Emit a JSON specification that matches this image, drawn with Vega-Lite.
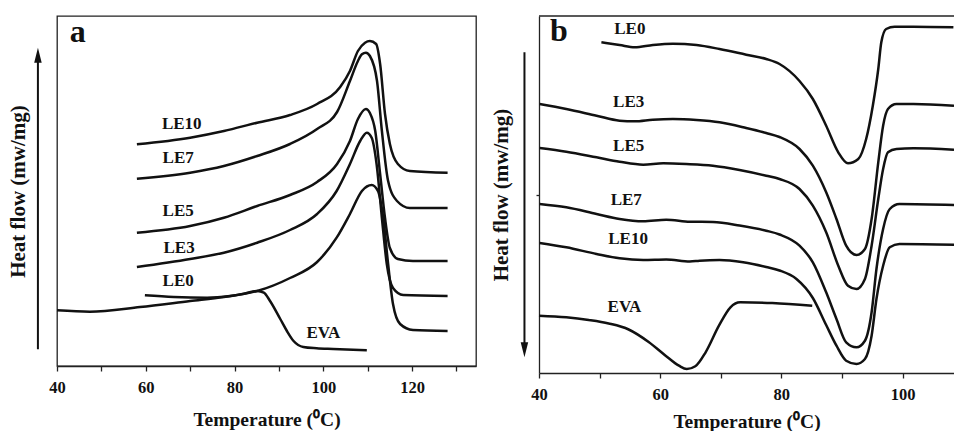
{
 "$schema": "https://vega.github.io/schema/vega-lite/v6.json",
 "padding": {"left": 6, "top": 14, "right": 0, "bottom": 0},
 "background": "white",
 "spacing": 13,
 "config": {
  "font": "Liberation Serif",
  "view": {"stroke": null},
  "axis": {"grid": false, "labelFont": "Liberation Serif", "labelFontWeight": "bold", "labelFontSize": 16.5, "labelColor": "#111", "titleFont": "Liberation Serif", "titleFontWeight": "bold", "titleFontSize": 19.5, "titleColor": "#111", "domainColor": "#222", "domainWidth": 1.3, "tickColor": "#222", "tickWidth": 1.3}
 },
 "datasets": {
  "a": [
   {"s":"LE10","T":58.0,"v":221.7},{"s":"LE10","T":70.0,"v":228.3},{"s":"LE10","T":77.6,"v":235},{"s":"LE10","T":85.1,"v":243.3},{"s":"LE10","T":92.5,"v":251},{"s":"LE10","T":98.6,"v":262},{"s":"LE10","T":103.8,"v":279},{"s":"LE10","T":106.0,"v":295},{"s":"LE10","T":107.8,"v":315},{"s":"LE10","T":109.4,"v":323.3},{"s":"LE10","T":110.5,"v":325},{"s":"LE10","T":111.9,"v":322},{"s":"LE10","T":112.8,"v":302},{"s":"LE10","T":113.9,"v":252},{"s":"LE10","T":115.0,"v":222},{"s":"LE10","T":116.8,"v":202},{"s":"LE10","T":119.5,"v":195},{"s":"LE10","T":128.0,"v":193.3},
   {"s":"LE7","T":58.0,"v":187.3},{"s":"LE7","T":70.0,"v":193.3},{"s":"LE7","T":77.6,"v":200},{"s":"LE7","T":85.1,"v":210},{"s":"LE7","T":92.5,"v":222},{"s":"LE7","T":98.6,"v":237},{"s":"LE7","T":103.1,"v":254},{"s":"LE7","T":106.0,"v":285},{"s":"LE7","T":107.8,"v":305},{"s":"LE7","T":108.7,"v":311.7},{"s":"LE7","T":109.6,"v":313.3},{"s":"LE7","T":110.5,"v":310},{"s":"LE7","T":112.1,"v":285},{"s":"LE7","T":113.2,"v":235},{"s":"LE7","T":114.6,"v":185},{"s":"LE7","T":116.6,"v":165},{"s":"LE7","T":119.5,"v":158},{"s":"LE7","T":128.0,"v":158},
   {"s":"LE5","T":58.0,"v":133.3},{"s":"LE5","T":70.0,"v":140},{"s":"LE5","T":77.6,"v":148.3},{"s":"LE5","T":85.1,"v":160},{"s":"LE5","T":92.5,"v":171},{"s":"LE5","T":98.6,"v":184},{"s":"LE5","T":103.1,"v":202},{"s":"LE5","T":106.0,"v":225},{"s":"LE5","T":107.8,"v":247},{"s":"LE5","T":109.6,"v":257},{"s":"LE5","T":110.5,"v":253},{"s":"LE5","T":111.7,"v":235},{"s":"LE5","T":112.8,"v":192},{"s":"LE5","T":113.9,"v":148},{"s":"LE5","T":115.0,"v":118},{"s":"LE5","T":116.8,"v":107},{"s":"LE5","T":120.2,"v":105},{"s":"LE5","T":128.0,"v":105},
   {"s":"LE3","T":58.0,"v":99},{"s":"LE3","T":70.0,"v":107},{"s":"LE3","T":77.6,"v":113.3},{"s":"LE3","T":85.1,"v":123.3},{"s":"LE3","T":92.5,"v":136},{"s":"LE3","T":98.6,"v":152},{"s":"LE3","T":103.0,"v":175},{"s":"LE3","T":106.0,"v":202},{"s":"LE3","T":108.3,"v":225},{"s":"LE3","T":109.8,"v":233.3},{"s":"LE3","T":110.9,"v":228.3},{"s":"LE3","T":112.0,"v":202},{"s":"LE3","T":113.2,"v":148},{"s":"LE3","T":114.3,"v":102},{"s":"LE3","T":115.7,"v":78},{"s":"LE3","T":118.0,"v":71},{"s":"LE3","T":128.0,"v":70},
   {"s":"LE0","T":59.8,"v":70.7},{"s":"LE0","T":66.3,"v":69},{"s":"LE0","T":73.8,"v":68.3},{"s":"LE0","T":79.0,"v":70},{"s":"LE0","T":85.1,"v":75},{"s":"LE0","T":92.5,"v":88},{"s":"LE0","T":98.6,"v":104},{"s":"LE0","T":103.0,"v":128.3},{"s":"LE0","T":106.0,"v":152},{"s":"LE0","T":108.7,"v":175},{"s":"LE0","T":110.9,"v":181},{"s":"LE0","T":112.3,"v":175},{"s":"LE0","T":113.5,"v":148},{"s":"LE0","T":114.6,"v":102},{"s":"LE0","T":115.7,"v":62},{"s":"LE0","T":117.3,"v":42},{"s":"LE0","T":120.2,"v":36},{"s":"LE0","T":128.0,"v":35},
   {"s":"EVA","T":40.0,"v":55.7},{"s":"EVA","T":47.4,"v":54.3},{"s":"EVA","T":58.7,"v":59},{"s":"EVA","T":70.0,"v":65},{"s":"EVA","T":77.6,"v":69},{"s":"EVA","T":82.1,"v":72.3},{"s":"EVA","T":85.1,"v":75},{"s":"EVA","T":86.6,"v":73.3},{"s":"EVA","T":88.0,"v":65},{"s":"EVA","T":90.3,"v":47},{"s":"EVA","T":91.8,"v":35},{"s":"EVA","T":93.3,"v":25},{"s":"EVA","T":95.5,"v":19},{"s":"EVA","T":98.5,"v":17.7},{"s":"EVA","T":102.2,"v":17},{"s":"EVA","T":109.8,"v":15.7}
  ],
  "b": [
   {"s":"LE0","T":50.3,"v":330.7},{"s":"LE0","T":53.3,"v":328},{"s":"LE0","T":55.8,"v":325.7},{"s":"LE0","T":58.8,"v":328},{"s":"LE0","T":62.1,"v":329.3},{"s":"LE0","T":66.0,"v":328},{"s":"LE0","T":69.8,"v":324},{"s":"LE0","T":74.2,"v":318.3},{"s":"LE0","T":77.5,"v":314},{"s":"LE0","T":79.7,"v":309},{"s":"LE0","T":83.0,"v":292},{"s":"LE0","T":85.2,"v":274},{"s":"LE0","T":87.4,"v":247.3},{"s":"LE0","T":89.4,"v":220.7},{"s":"LE0","T":91.0,"v":209.7},{"s":"LE0","T":92.7,"v":214},{"s":"LE0","T":94.0,"v":234},{"s":"LE0","T":95.1,"v":267.3},{"s":"LE0","T":96.0,"v":304},{"s":"LE0","T":96.5,"v":330.7},{"s":"LE0","T":97.3,"v":344},{"s":"LE0","T":98.7,"v":346.3},{"s":"LE0","T":101.8,"v":346.3},{"s":"LE0","T":108.4,"v":345.7},
   {"s":"LE3","T":40.1,"v":269},{"s":"LE3","T":44.5,"v":264},{"s":"LE3","T":49.5,"v":257.3},{"s":"LE3","T":53.3,"v":252.3},{"s":"LE3","T":55.8,"v":251.7},{"s":"LE3","T":58.8,"v":253.3},{"s":"LE3","T":62.1,"v":254},{"s":"LE3","T":66.0,"v":253},{"s":"LE3","T":69.8,"v":250.7},{"s":"LE3","T":74.2,"v":245},{"s":"LE3","T":77.5,"v":240},{"s":"LE3","T":79.7,"v":236},{"s":"LE3","T":83.0,"v":224},{"s":"LE3","T":85.2,"v":207.3},{"s":"LE3","T":87.4,"v":180.7},{"s":"LE3","T":89.1,"v":154},{"s":"LE3","T":90.7,"v":127.3},{"s":"LE3","T":92.4,"v":118},{"s":"LE3","T":93.8,"v":124},{"s":"LE3","T":94.9,"v":154},{"s":"LE3","T":96.0,"v":210.7},{"s":"LE3","T":96.8,"v":247.3},{"s":"LE3","T":97.6,"v":264},{"s":"LE3","T":99.0,"v":269},{"s":"LE3","T":101.8,"v":269},{"s":"LE3","T":108.5,"v":267.3},
   {"s":"LE5","T":40.1,"v":225},{"s":"LE5","T":44.5,"v":221.3},{"s":"LE5","T":49.5,"v":215.7},{"s":"LE5","T":53.3,"v":211.3},{"s":"LE5","T":57.2,"v":208.3},{"s":"LE5","T":60.5,"v":209.7},{"s":"LE5","T":64.3,"v":209},{"s":"LE5","T":68.7,"v":207.3},{"s":"LE5","T":73.1,"v":203},{"s":"LE5","T":77.5,"v":197.3},{"s":"LE5","T":79.7,"v":194},{"s":"LE5","T":83.0,"v":184},{"s":"LE5","T":85.2,"v":167.3},{"s":"LE5","T":87.4,"v":140.7},{"s":"LE5","T":89.4,"v":107.3},{"s":"LE5","T":91.0,"v":87.3},{"s":"LE5","T":92.4,"v":84},{"s":"LE5","T":93.8,"v":94},{"s":"LE5","T":94.9,"v":127.3},{"s":"LE5","T":96.0,"v":174},{"s":"LE5","T":96.8,"v":204},{"s":"LE5","T":97.6,"v":220.7},{"s":"LE5","T":99.0,"v":224},{"s":"LE5","T":101.8,"v":224.7},{"s":"LE5","T":108.5,"v":223.3},
   {"s":"LE7","T":40.1,"v":169},{"s":"LE7","T":44.5,"v":165.7},{"s":"LE7","T":49.5,"v":159},{"s":"LE7","T":53.3,"v":154},{"s":"LE7","T":57.2,"v":151.7},{"s":"LE7","T":61.0,"v":153.3},{"s":"LE7","T":64.9,"v":151.3},{"s":"LE7","T":68.7,"v":151},{"s":"LE7","T":73.1,"v":147.5},{"s":"LE7","T":77.5,"v":142.3},{"s":"LE7","T":79.7,"v":138.5},{"s":"LE7","T":83.0,"v":127.3},{"s":"LE7","T":85.2,"v":110.7},{"s":"LE7","T":87.4,"v":80.7},{"s":"LE7","T":89.1,"v":54},{"s":"LE7","T":90.7,"v":30.7},{"s":"LE7","T":92.4,"v":25.7},{"s":"LE7","T":93.8,"v":32.3},{"s":"LE7","T":94.9,"v":60.7},{"s":"LE7","T":95.7,"v":104},{"s":"LE7","T":96.8,"v":144},{"s":"LE7","T":97.9,"v":164},{"s":"LE7","T":99.5,"v":169},{"s":"LE7","T":108.5,"v":168},
   {"s":"LE10","T":40.1,"v":130},{"s":"LE10","T":44.5,"v":125.7},{"s":"LE10","T":49.5,"v":119},{"s":"LE10","T":53.3,"v":114.7},{"s":"LE10","T":57.2,"v":113},{"s":"LE10","T":61.0,"v":113.5},{"s":"LE10","T":64.9,"v":111.5},{"s":"LE10","T":66.5,"v":112.3},{"s":"LE10","T":69.8,"v":113},{"s":"LE10","T":73.7,"v":110.7},{"s":"LE10","T":77.5,"v":106},{"s":"LE10","T":79.7,"v":102.5},{"s":"LE10","T":82.5,"v":94},{"s":"LE10","T":85.2,"v":75},{"s":"LE10","T":87.4,"v":48},{"s":"LE10","T":89.1,"v":27.3},{"s":"LE10","T":90.7,"v":12.3},{"s":"LE10","T":92.4,"v":9},{"s":"LE10","T":93.8,"v":14},{"s":"LE10","T":94.9,"v":37.3},{"s":"LE10","T":95.7,"v":74},{"s":"LE10","T":96.8,"v":107.3},{"s":"LE10","T":97.9,"v":125.7},{"s":"LE10","T":99.5,"v":129},{"s":"LE10","T":108.5,"v":128.3},
   {"s":"EVA","T":40.0,"v":57.3},{"s":"EVA","T":44.5,"v":55.7},{"s":"EVA","T":48.2,"v":53},{"s":"EVA","T":51.5,"v":49.5},{"s":"EVA","T":54.8,"v":43.5},{"s":"EVA","T":58.1,"v":31},{"s":"EVA","T":60.9,"v":17.3},{"s":"EVA","T":63.1,"v":7.3},{"s":"EVA","T":64.4,"v":4},{"s":"EVA","T":65.8,"v":6.7},{"s":"EVA","T":67.5,"v":20.7},{"s":"EVA","T":69.7,"v":47.3},{"s":"EVA","T":71.6,"v":65.7},{"s":"EVA","T":73.2,"v":70.7},{"s":"EVA","T":78.5,"v":70},{"s":"EVA","T":85.1,"v":67.3}
  ],
  "labA": [
   {"label":"LE10","T":68.1,"v":241.7},{"label":"LE7","T":67.3,"v":208.3},{"label":"LE5","T":67.3,"v":155},{"label":"LE3","T":67.5,"v":118.3},{"label":"LE0","T":67.3,"v":85},{"label":"EVA","T":100.0,"v":32.7}
  ],
  "labB": [
   {"label":"LE0","T":55.0,"v":344},{"label":"LE3","T":54.8,"v":270.7},{"label":"LE5","T":54.8,"v":226.7},{"label":"LE7","T":54.4,"v":173.3},{"label":"LE10","T":54.7,"v":134},{"label":"EVA","T":54.1,"v":65.7}
  ]
 },
 "hconcat": [
  {
   "width": 419,
   "height": 350,
   "view": {"stroke": "#222", "strokeWidth": 1.3},
   "layer": [
    {
     "data": {"name": "a"},
     "mark": {"type": "line", "color": "#111", "strokeWidth": 2.5, "interpolate": "monotone"},
     "encoding": {
      "x": {"field": "T", "type": "quantitative", "scale": {"domain": [40, 134.4], "nice": false, "zero": false},
            "axis": {"values": [40,50,60,70,80,90,100,110,120,130], "labelExpr": "datum.value % 20 === 0 ? datum.label : ''", "tickSize": 5, "labelPadding": 8, "titlePadding": 15, "labelFlush": false, "title": "Temperature (⁰C)"}},
      "y": {"field": "v", "type": "quantitative", "scale": {"domain": [0, 350], "nice": false, "zero": false},
            "axis": {"title": "Heat flow (mw/mg)", "titleFontSize": 21, "ticks": false, "labels": false, "domain": false, "titlePadding": 29}},
      "detail": {"field": "s"}
     }
    },
    {
     "data": {"name": "labA"},
     "mark": {"type": "text", "font": "Liberation Serif", "fontWeight": "bold", "fontSize": 17, "color": "#111", "align": "center", "baseline": "middle"},
     "encoding": {
      "x": {"field": "T", "type": "quantitative"},
      "y": {"field": "v", "type": "quantitative"},
      "text": {"field": "label"}
     }
    },
    {
     "data": {"values": [{}]},
     "mark": {"type": "rule", "color": "#111", "strokeWidth": 2},
     "encoding": {"x": {"datum": 35.7, "type": "quantitative"}, "y": {"datum": 16.7, "type": "quantitative"}, "y2": {"datum": 306}}
    },
    {
     "data": {"values": [{}]},
     "mark": {"type": "point", "shape": "M-0.5,1L0,-1L0.5,1Z", "filled": true, "size": 225, "color": "#111", "opacity": 1, "strokeWidth": 0},
     "encoding": {"x": {"datum": 35.7, "type": "quantitative"}, "y": {"datum": 310.8, "type": "quantitative"}}
    },
    {
     "data": {"values": [{}]},
     "mark": {"type": "text", "text": "a", "font": "Liberation Serif", "fontWeight": "bold", "fontSize": 32, "color": "#111", "align": "left", "baseline": "alphabetic"},
     "encoding": {"x": {"datum": 42.9, "type": "quantitative"}, "y": {"datum": 324.3, "type": "quantitative"}}
    }
   ]
  },
  {
   "width": 415,
   "height": 357,
   "layer": [
    {
     "data": {"name": "b"},
     "mark": {"type": "line", "color": "#111", "strokeWidth": 2.5, "interpolate": "monotone"},
     "encoding": {
      "x": {"field": "T", "type": "quantitative", "scale": {"domain": [40, 108.5], "nice": false, "zero": false},
            "axis": {"values": [40,50,60,70,80,90,100], "labelExpr": "datum.value % 20 === 0 ? datum.label : ''", "tickSize": 5, "labelPadding": 8, "titlePadding": 10, "labelFlush": false, "title": "Temperature (⁰C)"}},
      "y": {"field": "v", "type": "quantitative", "scale": {"domain": [0, 357], "nice": false, "zero": false},
            "axis": {"title": "Heat flow (mw/mg)", "titleFontSize": 21, "values": [178], "tickSize": 3, "labels": false, "domain": true, "titlePadding": 24}},
      "detail": {"field": "s"}
     }
    },
    {
     "data": {"name": "labB"},
     "mark": {"type": "text", "font": "Liberation Serif", "fontWeight": "bold", "fontSize": 17, "color": "#111", "align": "center", "baseline": "middle"},
     "encoding": {
      "x": {"field": "T", "type": "quantitative"},
      "y": {"field": "v", "type": "quantitative"},
      "text": {"field": "label"}
     }
    },
    {
     "data": {"values": [{}]},
     "mark": {"type": "rule", "color": "#222", "strokeWidth": 1.3},
     "encoding": {"x": {"datum": 40, "type": "quantitative"}, "x2": {"datum": 108.5}, "y": {"datum": 357, "type": "quantitative"}}
    },
    {
     "data": {"values": [{}]},
     "mark": {"type": "rule", "color": "#111", "strokeWidth": 2},
     "encoding": {"x": {"datum": 37.6, "type": "quantitative"}, "y": {"datum": 27, "type": "quantitative"}, "y2": {"datum": 320.7}}
    },
    {
     "data": {"values": [{}]},
     "mark": {"type": "point", "shape": "M-0.5,-1L0,1L0.5,-1Z", "filled": true, "size": 225, "color": "#111", "opacity": 1, "strokeWidth": 0},
     "encoding": {"x": {"datum": 37.6, "type": "quantitative"}, "y": {"datum": 23.2, "type": "quantitative"}}
    },
    {
     "data": {"values": [{}]},
     "mark": {"type": "text", "text": "b", "font": "Liberation Serif", "fontWeight": "bold", "fontSize": 32, "color": "#111", "align": "left", "baseline": "alphabetic"},
     "encoding": {"x": {"datum": 41.8, "type": "quantitative"}, "y": {"datum": 332.4, "type": "quantitative"}}
    }
   ]
  }
 ]
}
